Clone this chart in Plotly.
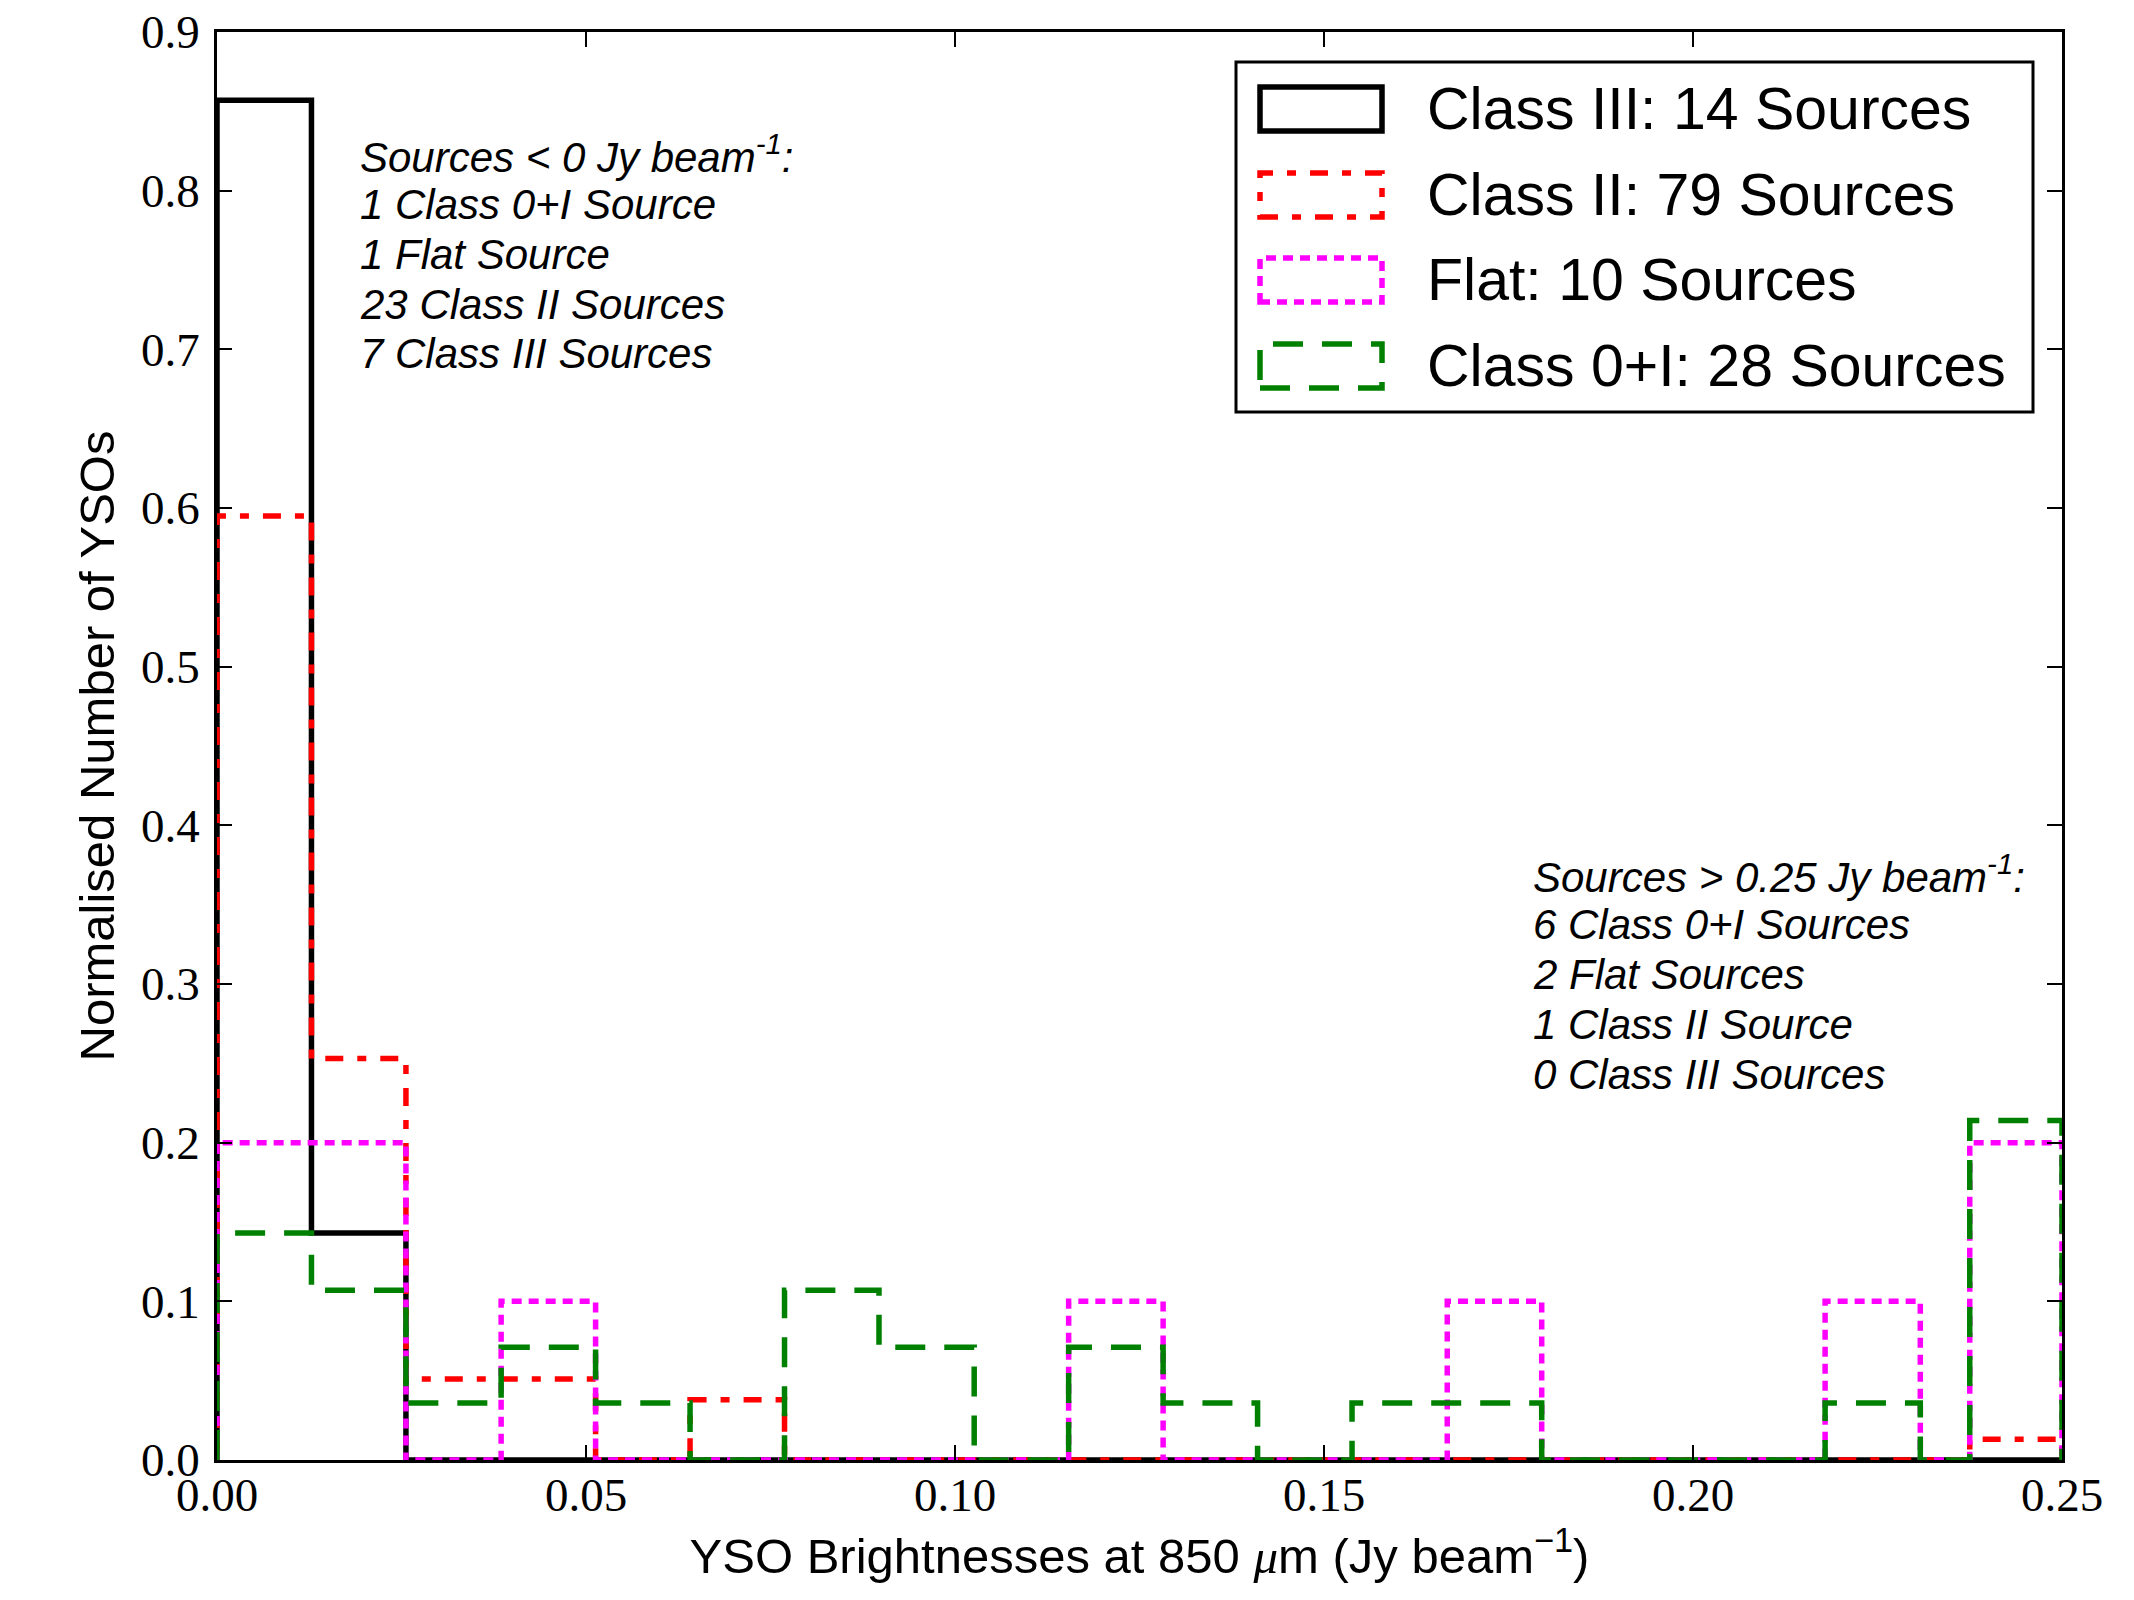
import plotly.graph_objects as go

# ---------------- data ----------------
bin_edges = [0.0, 0.0128, 0.0256, 0.0385, 0.0513, 0.0641, 0.0769, 0.0897, 0.1026,
             0.1154, 0.1282, 0.1410, 0.1538, 0.1667, 0.1795, 0.1923, 0.2051,
             0.2179, 0.2308, 0.2375, 0.25]

class_iii = [0.857, 0.143, 0, 0, 0, 0, 0, 0, 0, 0, 0, 0, 0, 0, 0, 0, 0, 0, 0, 0]
class_ii = [0.595, 0.253, 0.051, 0.051, 0, 0.038, 0, 0, 0, 0, 0, 0, 0, 0, 0, 0, 0, 0, 0, 0.013]
flat = [0.2, 0.2, 0, 0.1, 0, 0, 0, 0, 0, 0.1, 0, 0, 0, 0.1, 0, 0, 0, 0.1, 0, 0.2]
class_0i = [0.143, 0.107, 0.036, 0.071, 0.036, 0, 0.107, 0.071, 0, 0.071, 0.036, 0,
            0.036, 0.036, 0, 0, 0, 0.036, 0, 0.214]

series_names = ["Class III: 14 Sources", "Class II: 79 Sources",
                "Flat: 10 Sources", "Class 0+I: 28 Sources"]
series_values = [class_iii, class_ii, flat, class_0i]
series_colors = ["#000000", "#ff0000", "#ff00ff", "#008000"]
series_dash = ["solid", "18px,14px,9px,14px", "10px,7px", "30px,19px"]

x_ticks = [0.0, 0.05, 0.10, 0.15, 0.20, 0.25]
y_ticks = [0.0, 0.1, 0.2, 0.3, 0.4, 0.5, 0.6, 0.7, 0.8, 0.9]

note_left = ["<i>Sources &lt; 0 Jy beam<sup>-1</sup>:</i>",
             "<i>1 Class 0+I Source</i>",
             "<i>1 Flat Source</i>",
             "<i>23 Class II Sources</i>",
             "<i>7 Class III Sources</i>"]
note_right = ["<i>Sources &gt; 0.25 Jy beam<sup>-1</sup>:</i>",
              "<i>6 Class 0+I Sources</i>",
              "<i>2 Flat Sources</i>",
              "<i>1 Class II Source</i>",
              "<i>0 Class III Sources</i>"]

# ---------------- layout geometry (pixels) ----------------
W, H = 2134, 1600
L, R, T, B = 217, 72, 32, 140
PW, PH = W - L - R, H - T - B

def px(xp):
    return (xp - L) / PW

def py(yp):
    return (H - B - yp) / PH

LW = 5.5
fig = go.Figure()

for name, vals, col, dash in zip(series_names, series_values, series_colors, series_dash):
    xs = [bin_edges[0]] + list(bin_edges)
    ys = [0] + list(vals) + [0]
    fig.add_trace(go.Scatter(x=xs, y=ys, mode="lines", line_shape="hv", name=name,
                             line=dict(color=col, width=LW, dash=dash),
                             showlegend=False, hoverinfo="skip"))

shapes = []
annotations = []

# legend box
shapes.append(dict(type="rect", xref="paper", yref="paper",
                   x0=px(1236), x1=px(2033), y0=py(412), y1=py(62),
                   line=dict(color="black", width=3), fillcolor="white", layer="above"))
row_centers = [109, 195, 280, 366]
for i, (name, col, dash) in enumerate(zip(series_names, series_colors, series_dash)):
    cy = row_centers[i]
    shapes.append(dict(type="rect", xref="paper", yref="paper",
                       x0=px(1260), x1=px(1382), y0=py(cy + 22), y1=py(cy - 22),
                       line=dict(color=col, width=LW, dash=dash), fillcolor="rgba(0,0,0,0)",
                       layer="above"))
    annotations.append(dict(xref="paper", yref="paper", x=px(1425), y=py(cy),
                            text=name, showarrow=False, xanchor="left", yanchor="middle",
                            font=dict(family="Liberation Sans", size=59, color="black")))

for i, t in enumerate(note_left):
    annotations.append(dict(xref="paper", yref="paper", x=px(358), y=py(154 + 50 * i),
                            text=t, showarrow=False, xanchor="left", yanchor="middle",
                            font=dict(family="Liberation Sans", size=42, color="black")))
for i, t in enumerate(note_right):
    annotations.append(dict(xref="paper", yref="paper", x=px(1531), y=py(874 + 50 * i),
                            text=t, showarrow=False, xanchor="left", yanchor="middle",
                            font=dict(family="Liberation Sans", size=42, color="black")))

axis_common = dict(showline=True, linewidth=2.5, linecolor="black", mirror="allticks",
                   ticks="inside", ticklen=15, tickwidth=1.5, tickcolor="black",
                   showgrid=False, zeroline=False, automargin=False,
                   tickfont=dict(family="Liberation Serif", size=47, color="black"))

fig.update_layout(
    width=W, height=H,
    margin=dict(l=L, r=R, t=T, b=B, pad=0, autoexpand=False),
    paper_bgcolor="white", plot_bgcolor="white",
    shapes=shapes, annotations=annotations,
    xaxis=dict(range=[0, 0.25], tickvals=x_ticks, tickformat=".2f",
               ticklabelstandoff=-8,
               title=dict(text="YSO Brightnesses at 850 <span style=\"font-family:'Liberation Serif'\"><i>μ</i></span>m (Jy beam<sup>−1</sup>)",
                          font=dict(family="Liberation Sans", size=49, color="black"),
                          standoff=3),
               **axis_common),
    yaxis=dict(range=[0, 0.9], tickvals=y_ticks, tickformat=".1f",
               ticklabelstandoff=5,
               title=dict(text="Normalised Number of YSOs",
                          font=dict(family="Liberation Sans", size=49, color="black"),
                          standoff=11),
               **axis_common),
)

fig.write_html("out.html")
